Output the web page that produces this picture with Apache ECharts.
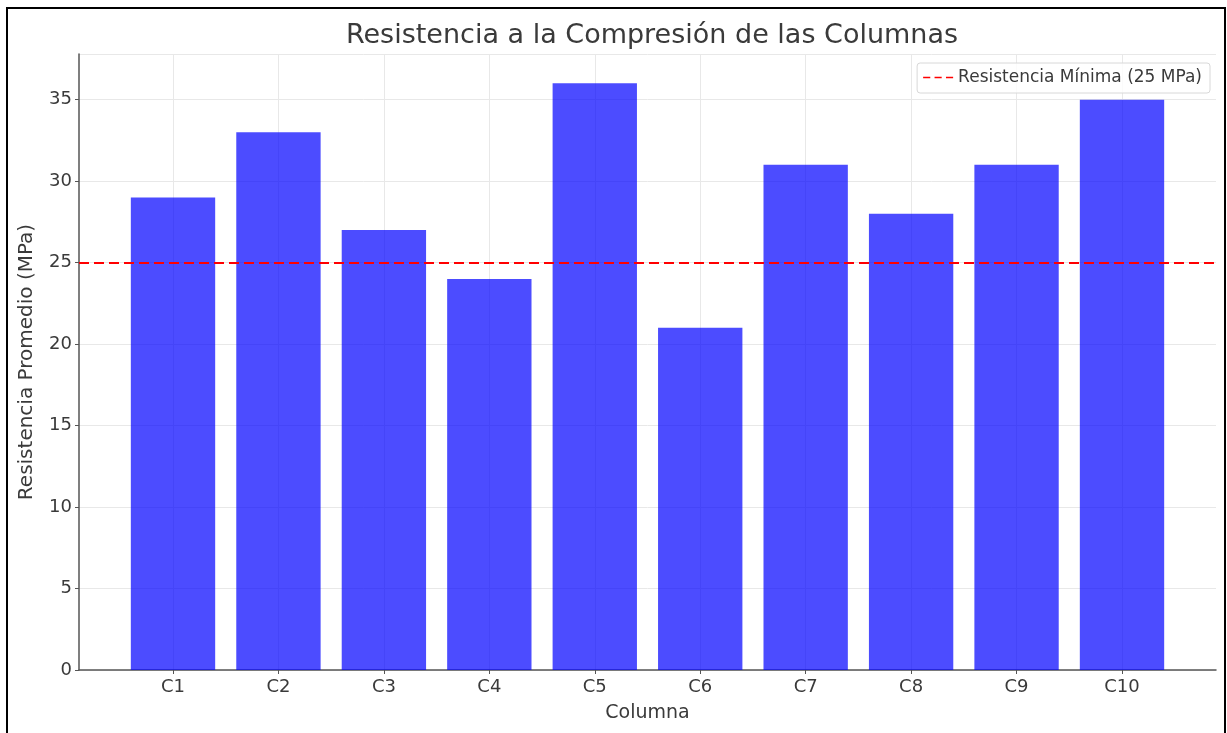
<!DOCTYPE html>
<html>
<head>
<meta charset="utf-8">
<script src="https://cdn.jsdelivr.net/npm/echarts@6/dist/echarts.min.js"></script>
<style>
html,body{margin:0;padding:0;background:#fff;}
#c{width:1227px;height:733px;}
</style>
</head>
<body>
<div id="c"></div>
<script>
const categories = ['C1','C2','C3','C4','C5','C6','C7','C8','C9','C10'];
const resistance = [29, 33, 27, 24, 36, 21, 31, 28, 31, 35];
const threshold = 25;
const yTicks = [0, 5, 10, 15, 20, 25, 30, 35];
const thresholdName = 'Resistencia Mínima (25 MPa)';

const FONT = '"DejaVu Sans", sans-serif';
const TXT = '#3a3a3a';
const yMax = 37.8;

const chart = echarts.init(document.getElementById('c'), null, {renderer: 'canvas'});
chart.setOption({
  animation: false,
  backgroundColor: '#fff',
  title: {
    text: 'Resistencia a la Compresión de las Columnas',
    left: 647, textAlign: 'center', top: 17,
    textStyle: {fontFamily: FONT, fontSize: 27, fontWeight: 'normal', color: TXT}
  },
  legend: {
    right: 17, top: 63,
    data: [{name: thresholdName, icon: 'path://M0,0h5v1h-5z M8,0h5v1h-5z M16,0h5v1h-5z'}],
    itemWidth: 30, itemHeight: 3, itemGap: 8,
    padding: [6, 8, 7, 6],
    borderColor: '#d8d8d8', borderWidth: 1, borderRadius: 3,
    backgroundColor: 'rgba(255,255,255,0.8)',
    textStyle: {fontFamily: FONT, fontSize: 17, color: TXT}
  },
  grid: [
    {left: 79, right: 11, top: 54, bottom: 63, containLabel: false},
    {left: 173, right: 105, top: 54, bottom: 63, containLabel: false}
  ],
  xAxis: [
    {
      gridIndex: 0, type: 'value', min: 0, max: 1,
      axisLine: {show: true, onZero: false, lineStyle: {color: '#555', width: 1.5}},
      axisTick: {show: false}, axisLabel: {show: false}, splitLine: {show: false},
      name: 'Columna', nameLocation: 'middle', nameGap: 34,
      nameTextStyle: {fontFamily: FONT, fontSize: 19, color: TXT}
    },
    {
      gridIndex: 1, type: 'category', data: categories, boundaryGap: false,
      axisLine: {show: false},
      axisTick: {show: true, inside: false, length: 4, lineStyle: {color: '#555'}},
      axisLabel: {fontFamily: FONT, fontSize: 18, color: TXT, margin: 8},
      splitLine: {show: true, lineStyle: {color: '#e8e8e8', width: 1}}
    }
  ],
  yAxis: [
    {
      gridIndex: 0, type: 'value', min: 0, max: yMax, interval: 5,
      axisLine: {show: true, lineStyle: {color: '#555', width: 1.5}},
      axisTick: {show: true, length: 4, lineStyle: {color: '#555'}},
      axisLabel: {fontFamily: FONT, fontSize: 18, color: TXT, margin: 7,
        showMaxLabel: false,
        formatter: v => yTicks.includes(v) ? String(v) : ''},
      splitLine: {show: true, lineStyle: {color: '#e8e8e8', width: 1}},
      name: 'Resistencia Promedio (MPa)', nameLocation: 'middle', nameGap: 42,
      nameTextStyle: {fontFamily: FONT, fontSize: 20, color: TXT}
    },
    {
      gridIndex: 1, type: 'value', min: 0, max: yMax, interval: 5,
      show: false, splitLine: {show: false}
    }
  ],
  series: [
    {
      type: 'bar', xAxisIndex: 1, yAxisIndex: 1,
      data: resistance, barWidth: '80%', z: 1,
      itemStyle: {color: '#0000ff', opacity: 0.7}
    },
    {
      name: thresholdName,
      type: 'line', xAxisIndex: 0, yAxisIndex: 0,
      data: [], symbol: 'none', z: 5,
      lineStyle: {color: '#ff0000', type: [10, 5], width: 2},
      itemStyle: {color: '#ff0000'},
      markLine: {
        silent: true, symbol: 'none', label: {show: false},
        lineStyle: {color: '#ff0000', type: [10, 5], width: 2},
        data: [{yAxis: threshold}]
      }
    }
  ],
  graphic: [
    {type: 'rect', z: 100, silent: true,
     shape: {x: 7, y: 8, width: 1218, height: 740},
     style: {fill: 'none', stroke: '#000', lineWidth: 2}}
  ]
});
</script>
</body>
</html>
